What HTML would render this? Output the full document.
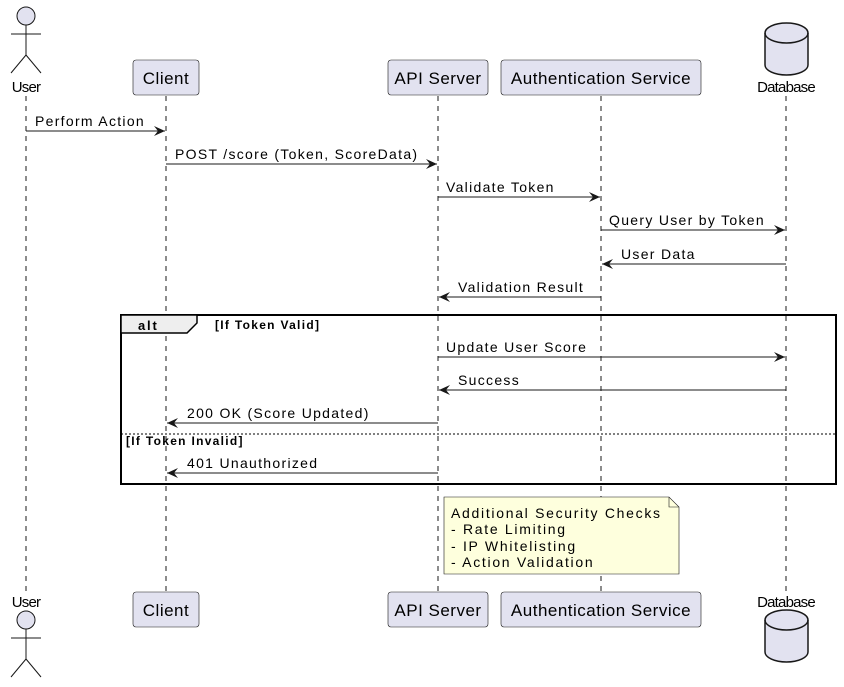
<!DOCTYPE html>
<html><head><meta charset="utf-8"><style>html,body{margin:0;padding:0;background:#fff}svg{display:block}</style></head><body>
<svg width="844" height="687" viewBox="0 0 844 687" xmlns="http://www.w3.org/2000/svg" font-family="Liberation Sans, sans-serif">
<defs><marker id="a" markerWidth="12" markerHeight="10" refX="11" refY="5" orient="auto" markerUnits="userSpaceOnUse"><path d="M0,0 L11,5 L0,10 L4,5 Z" fill="#181818"/></marker></defs>
<g stroke="#181818" stroke-width="1" stroke-dasharray="5,5">
<line x1="26" y1="96" x2="26" y2="592"/><line x1="166" y1="96" x2="166" y2="592"/><line x1="438" y1="96" x2="438" y2="592"/><line x1="601" y1="96" x2="601" y2="592"/><line x1="786" y1="96" x2="786" y2="592"/>
</g>
<g fill="#E2E2F0" stroke="#181818" stroke-width="1">
<circle cx="26" cy="16" r="9"/><line x1="26" y1="25" x2="26" y2="55"/><line x1="11" y1="34" x2="41" y2="34"/><path d="M26,55 L11,73 M26,55 L41,73" fill="none"/>
<circle cx="26" cy="620" r="9"/><line x1="26" y1="629" x2="26" y2="659"/><line x1="11" y1="638" x2="41" y2="638"/><path d="M26,659 L11,677 M26,659 L41,677" fill="none"/>
</g>
<g font-size="15" fill="#000">
<text x="26" y="92" text-anchor="middle" letter-spacing="-0.8">User</text>
<text x="26" y="607" text-anchor="middle" letter-spacing="-0.8">User</text>
<text x="786" y="92" text-anchor="middle" letter-spacing="-0.8">Database</text>
<text x="786" y="607" text-anchor="middle" letter-spacing="-0.8">Database</text>
</g>
<g fill="#E2E2F0" stroke="#181818" stroke-width="1.5">
<path d="M765,33 A21.5,10 0 0 1 808,33 L808,65 A21.5,10 0 0 1 765,65 Z"/><path d="M765,33 A21.5,10 0 0 0 808,33" fill="none"/>
<path d="M765,620 A21.5,10 0 0 1 808,620 L808,652 A21.5,10 0 0 1 765,652 Z"/><path d="M765,620 A21.5,10 0 0 0 808,620" fill="none"/>
</g>
<g fill="#E2E2F0" stroke="#181818" stroke-width="0.6">
<rect x="133" y="60" width="66" height="35" rx="3"/><rect x="388" y="60" width="100" height="35" rx="3"/><rect x="501" y="60" width="200" height="35" rx="3"/>
<rect x="133" y="592" width="66" height="35" rx="3"/><rect x="388" y="592" width="100" height="35" rx="3"/><rect x="501" y="592" width="200" height="35" rx="3"/>
</g>
<g font-size="17" fill="#000" text-anchor="middle" letter-spacing="0.5">
<text x="166" y="84">Client</text><text x="438" y="84">API Server</text><text x="601" y="84">Authentication Service</text>
<text x="166" y="616">Client</text><text x="438" y="616">API Server</text><text x="601" y="616">Authentication Service</text>
</g>
<g stroke="#181818" stroke-width="1" marker-end="url(#a)">
<line x1="26" y1="131" x2="165" y2="131"/>
<line x1="166" y1="164" x2="437" y2="164"/>
<line x1="438" y1="197" x2="600" y2="197"/>
<line x1="601" y1="230" x2="785" y2="230"/>
<line x1="786" y1="264" x2="602" y2="264"/>
<line x1="601" y1="297" x2="439" y2="297"/>
<line x1="438" y1="357" x2="785" y2="357"/>
<line x1="786" y1="390" x2="439" y2="390"/>
<line x1="438" y1="423" x2="167" y2="423"/>
<line x1="438" y1="473" x2="167" y2="473"/>
</g>
<g font-size="14" fill="#000" letter-spacing="1.3">
<text x="35" y="126">Perform Action</text>
<text x="175" y="159">POST /score (Token, ScoreData)</text>
<text x="446" y="192">Validate Token</text>
<text x="609" y="225">Query User by Token</text>
<text x="621" y="259">User Data</text>
<text x="458" y="292">Validation Result</text>
<text x="446" y="352">Update User Score</text>
<text x="458" y="385">Success</text>
<text x="187" y="418">200 OK (Score Updated)</text>
<text x="187" y="468">401 Unauthorized</text>
</g>
<rect x="121" y="315" width="715" height="169" fill="none" stroke="#000" stroke-width="2"/>
<path d="M121,315 L197,315 L197,323 L187,333 L121,333 Z" fill="#EEEEEE" stroke="#000" stroke-width="1.5"/>
<text x="138" y="330" font-size="13" font-weight="bold" letter-spacing="1.8">alt</text>
<text x="215" y="329" font-size="12" font-weight="bold" letter-spacing="1.3">[If Token Valid]</text>
<line x1="121" y1="434" x2="836" y2="434" stroke="#000" stroke-width="1" stroke-dasharray="2,2"/>
<text x="126" y="445" font-size="12" font-weight="bold" letter-spacing="1.3">[If Token Invalid]</text>
<path d="M444,497 L669,497 L679,507 L679,574 L444,574 Z" fill="#FEFFDD" stroke="#181818" stroke-width="0.6"/>
<path d="M669,497 L669,507 L679,507" fill="none" stroke="#181818" stroke-width="0.6"/>
<g font-size="14" fill="#000" letter-spacing="1.7">
<text x="451" y="518">Additional Security Checks</text>
<text x="451" y="534">- Rate Limiting</text>
<text x="451" y="551">- IP Whitelisting</text>
<text x="451" y="567">- Action Validation</text>
</g>
</svg>
</body></html>
